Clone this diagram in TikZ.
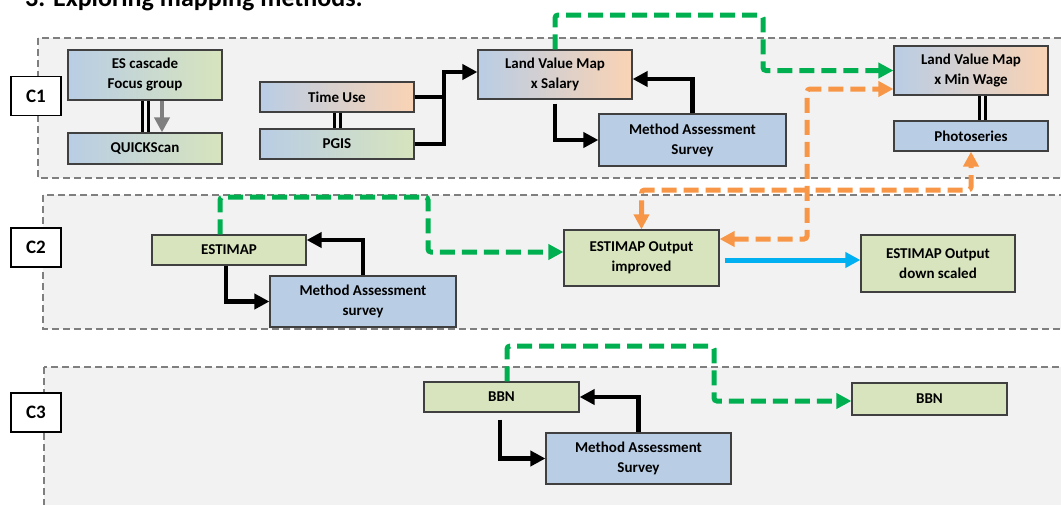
\documentclass[tikz,border=0pt]{standalone}
\usepackage{fontspec}
\setmainfont{Carlito}
\usetikzlibrary{arrows.meta,calc}
\definecolor{panelgray}{HTML}{F2F2F2}
\definecolor{bordergray}{HTML}{7F7F7F}
\definecolor{boxblue}{HTML}{B9CDE5}
\definecolor{boxgreen}{HTML}{D7E4BD}
\definecolor{boxpeach}{HTML}{FAD3B4}
\definecolor{linegreen}{HTML}{00B050}
\definecolor{lineorange}{HTML}{F79646}
\definecolor{lineblue}{HTML}{00B0F0}
\tikzset{
	panel/.style={fill=panelgray, draw=bordergray, line width=1.5pt, dash pattern=on 7pt off 4pt},
	cbox/.style={draw=black, line width=1.5pt, fill=white, minimum width=50pt, minimum height=39pt, inner sep=0pt, font=\fontsize{19}{22}\selectfont\bfseries},
	mbox/.style={draw=black!75, line width=1.2pt, align=center, inner sep=0pt, font=\fontsize{15}{20}\selectfont\bfseries},
	bluebox/.style={mbox, fill=boxblue},
	greenbox/.style={mbox, fill=boxgreen},
	bgbox/.style={mbox, left color=boxblue, right color=boxgreen},
	bpbox/.style={mbox, left color=boxblue, right color=boxpeach},
	flow/.style={line width=4.5pt, -{Triangle[length=15pt,width=15pt]}},
	twin/.style={line width=3pt, double=panelgray, double distance=3pt},
	greendash/.style={line width=5pt, color=linegreen, dash pattern=on 15pt off 7pt, rounded corners=3pt, -{Triangle[length=15pt,width=15pt]}},
	orangedash/.style={line width=5pt, color=lineorange, dash pattern=on 15pt off 7pt, rounded corners=3pt, {Triangle[length=15pt,width=15pt]}-{Triangle[length=15pt,width=15pt]}}
}

\begin{document}
\begin{tikzpicture}[x=1pt, y=-1pt]
			%%%%% START %%%%%
			
			\useasboundingbox (0,0) rectangle (1061,504);
			\clip (0,0) rectangle (1061,504);
			
			\node[anchor=base west, inner sep=0pt, font=\fontsize{26}{30}\selectfont\bfseries] (title) at (25,6.5) {3. Exploring mapping methods:};
			
			\draw[panel] (38,38) rectangle (1075,178);
			\draw[panel] (43,195) rectangle (1075,329);
			\draw[panel] (44,367) rectangle (1075,520);
			
			\node[cbox] (c1) at (36,96) {C1};
			\node[cbox] (c2) at (36,247.5) {C2};
			\node[cbox] (c3) at (36,412.5) {C3};
			
			\node[bgbox, minimum width=154pt, minimum height=50pt] (esc) at (145,75) {ES cascade\\Focus group};
			\node[bgbox, minimum width=154pt, minimum height=31pt] (qs) at (145,148.5) {QUICKScan};
			\node[bpbox, minimum width=154pt, minimum height=30pt] (tu) at (337,97) {Time Use};
			\node[bgbox, minimum width=154pt, minimum height=30pt] (pg) at (337,144) {PGIS};
			\node[bpbox, minimum width=154pt, minimum height=49pt] (lvs) at (555,74.5) {Land Value Map\\x Salary};
			\node[bluebox, minimum width=187pt, minimum height=52pt] (mas1) at (692.5,140) {Method Assessment\\Survey};
			\node[bpbox, minimum width=154pt, minimum height=49pt] (lvm) at (971,70.5) {Land Value Map\\x Min Wage};
			\node[bluebox, minimum width=154pt, minimum height=30pt] (photo) at (971,136) {Photoseries};
			
			\node[greenbox, minimum width=154pt, minimum height=30pt] (est) at (229,250) {ESTIMAP};
			\node[bluebox, minimum width=186pt, minimum height=51pt] (mas2) at (363,301.5) {Method Assessment\\survey};
			\node[greenbox, minimum width=155pt, minimum height=56pt] (eoi) at (641.5,258) {ESTIMAP Output\\improved};
			\node[greenbox, minimum width=154pt, minimum height=57pt] (eod) at (938,263.5) {ESTIMAP Output\\down scaled};
			
			\node[greenbox, minimum width=155pt, minimum height=30pt] (bbn1) at (501.5,397) {BBN};
			\node[bluebox, minimum width=185pt, minimum height=51pt] (mas3) at (638.5,458.5) {Method Assessment\\Survey};
			\node[greenbox, minimum width=155pt, minimum height=32pt] (bbn2) at (929.5,399) {BBN};
			
			\draw[twin] (esc.south) -- (qs.north);
			\draw[flow, color=bordergray] ([xshift=17pt]esc.south) -- ([xshift=17pt]qs.north);
			\draw[twin] (tu.south) -- (pg.north);
			
			\coordinate (merge) at (444,72);
			\draw[line width=4.5pt] (tu.east) -- (tu.east -| merge);
			\draw[flow] (pg.east) -| (merge) -- (lvs.west |- merge);
			\draw[flow] ([yshift=-4pt]lvs.south) |- (mas1.west);
			\draw[flow] (mas1.north) |- ([yshift=-4.5pt]lvs.east);
			\draw[twin] ([xshift=11pt]lvm.south) -- ([xshift=11pt]photo.north);
			
			\draw[flow] ([xshift=-3pt]est.south) |- (mas2.west);
			\draw[flow] (mas2.north) |- ([yshift=10pt]est.east);
			\coordinate (bstart) at ([xshift=5pt,yshift=-2pt]eoi.east);
			\draw[flow, line width=5pt, color=lineblue] (bstart) -- (bstart -| eod.west);
			
			\draw[flow, shorten <=7pt] ([xshift=-1.5pt]bbn1.south) |- (mas3.west);
			\draw[flow] (mas3.north) |- (bbn1.east);
			
			\coordinate (g1) at (763,15);
			\draw[greendash] (lvs.north) |- (g1) |- (lvm.west);
			\coordinate (g2) at (428,197);
			\draw[greendash] ([xshift=-9pt]est.north) |- (g2) |- ([yshift=6pt]eoi.west);
			\coordinate (g3) at (714,346);
			\draw[greendash] ([xshift=5.5pt]bbn1.north) |- (g3) |- ([yshift=-2pt]bbn2.west);
			
			\coordinate (o1) at (807,89);
			\draw[orangedash] ([yshift=19pt]eoi.east) -| (o1) -- (lvm.west |- o1);
			\coordinate (o2) at (807,190);
			\draw[orangedash] (eoi.north) |- (o2) -| (photo.south);
			
			%%%%% END %%%%%
		\end{tikzpicture}
\end{document}
